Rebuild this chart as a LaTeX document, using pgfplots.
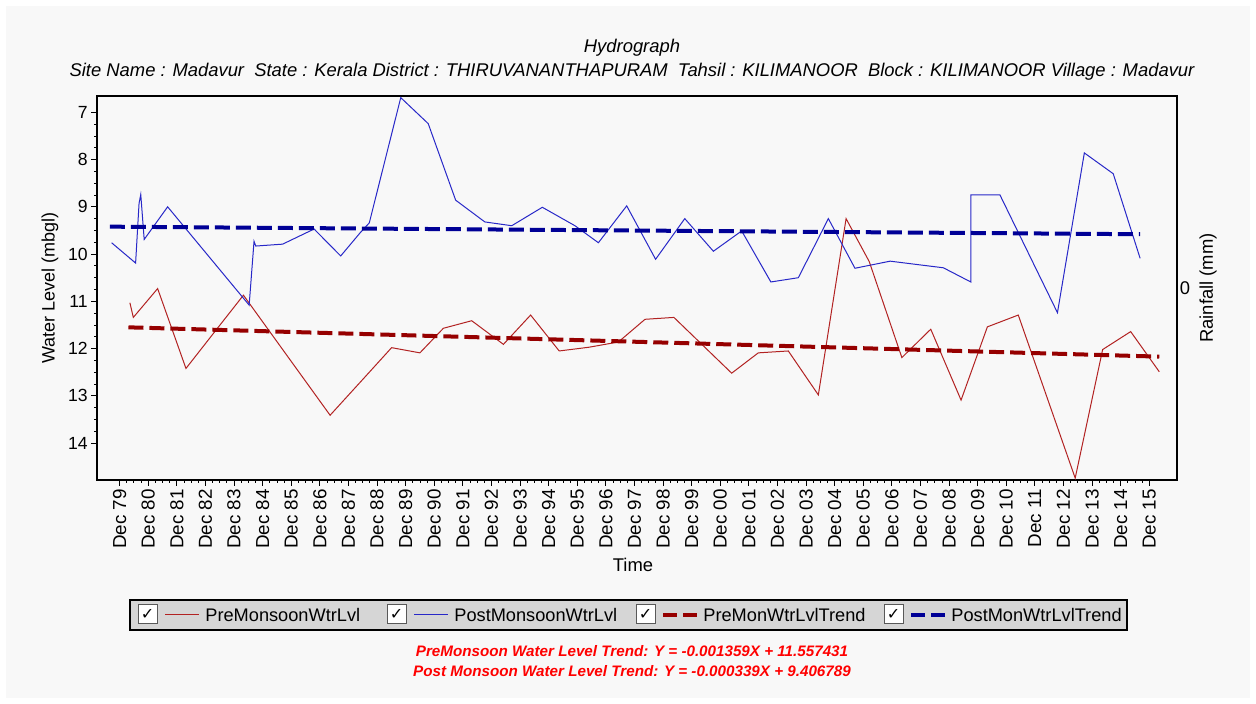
\documentclass[border=0pt]{standalone}
\usepackage{pgfplots}
\pgfplotsset{compat=1.18}
\usepackage{fontspec}
\setmainfont{Liberation Sans}
\newfontfamily\symfont{DejaVu Sans}

\definecolor{bgc}{RGB}{248,248,248}
\definecolor{prec}{RGB}{178,34,34}
\definecolor{postc}{RGB}{40,40,200}
\definecolor{pretr}{RGB}{150,0,0}
\definecolor{posttr}{RGB}{0,0,150}
\definecolor{legbg}{RGB}{214,214,214}

\newcommand{\lblfont}{\fontsize{9.2}{10}\selectfont}

\tikzset{
  legthin/.style={solid, line width=0.5pt},
  legdash/.style={line width=2pt, dash pattern=on 7pt off 3pt},
}

% t = years after Dec 1979
\pgfplotstableread{
t    y
0.36 11.03
0.48 11.34
1.33 10.73
2.32 12.42
3.55 11.47
4.33 10.87
7.36 13.41
8.64 12.56
9.51 11.98
10.50 12.09
11.32 11.57
12.31 11.41
13.42 11.91
14.37 11.29
15.37 12.05
16.42 11.97
17.44 11.86
18.37 11.38
19.38 11.34
21.40 12.52
22.33 12.09
23.38 12.05
24.43 12.98
25.40 9.25
26.21 10.16
27.35 12.19
28.36 11.59
29.42 13.09
30.34 11.54
31.42 11.29
33.41 14.74
34.37 12.02
35.35 11.64
36.35 12.49
}\premonsoon

\pgfplotstableread{
t    y
-0.28 9.76
0.56 10.19
0.68 8.93
0.74 8.74
0.86 9.69
1.68 9.00
4.53 11.08
4.70 9.73
4.76 9.83
5.70 9.79
6.80 9.47
7.73 10.04
8.41 9.55
8.73 9.34
9.83 6.69
10.79 7.24
11.75 8.86
12.77 9.32
13.71 9.40
14.78 9.01
15.92 9.40
16.74 9.76
17.73 8.98
18.74 10.11
19.76 9.25
20.76 9.94
21.75 9.51
22.77 10.59
23.73 10.50
24.78 9.25
25.71 10.30
26.94 10.15
28.80 10.29
29.76 10.59
29.76 8.75
30.78 8.75
32.79 11.24
33.73 7.86
34.74 8.30
35.68 10.09
}\postmonsoon

\begin{document}
\begin{tikzpicture}
\path[use as bounding box] (0,0) rectangle (628pt,352pt);
\fill[white] (0,0) rectangle (628pt,352pt);
\fill[bgc] (3pt,3pt) rectangle (625pt,349pt);

\begin{axis}[
    at={(48.5pt,112pt)}, anchor=south west,
    scale only axis,
    width=540pt, height=192pt,
    xmin=-0.79, xmax=36.97,
    ymin=6.655, ymax=14.78,
    y dir=reverse,
    axis background/.style={fill=bgc},
    axis line style={black, line width=0.8pt},
    tick align=outside,
    tick style={black, line width=0.4pt},
    major tick length=3pt, minor tick length=1.5pt,
    xtick={0,...,36},
    xticklabels={Dec 79,Dec 80,Dec 81,Dec 82,Dec 83,Dec 84,Dec 85,Dec 86,Dec 87,Dec 88,Dec 89,Dec 90,Dec 91,Dec 92,Dec 93,Dec 94,Dec 95,Dec 96,Dec 97,Dec 98,Dec 99,Dec 00,Dec 01,Dec 02,Dec 03,Dec 04,Dec 05,Dec 06,Dec 07,Dec 08,Dec 09,Dec 10,Dec 11,Dec 12,Dec 13,Dec 14,Dec 15},
    x tick label style={rotate=90, anchor=east, font=\fontsize{9.4}{10}\selectfont, inner sep=1.5pt},
    ytick={7,...,14},
    y tick label style={font=\fontsize{8.8}{10}\selectfont, inner sep=1.5pt},
    /pgf/number format/assume math mode=true,
    minor x tick num=3,
    minor y tick num=3,
    xtick pos=bottom, ytick pos=left,
    clip=false,
]
\addplot[prec, line width=0.5pt] table[x=t, y=y] {\premonsoon};
\addplot[postc, line width=0.5pt] table[x=t, y=y] {\postmonsoon};
\addplot[pretr, line width=2pt, dash pattern=on 7.5pt off 3pt] coordinates {(0.31,11.55) (36.35,12.17)};
\addplot[posttr, line width=2pt, dash pattern=on 7.5pt off 3pt] coordinates {(-0.34,9.42) (35.68,9.58)};
\end{axis}

% titles and labels
\node[font=\itshape\lblfont] at (316pt,328pt) {Hydrograph};
\node[font=\itshape\lblfont] at (316pt,316pt) {Site Name : Madavur\ \ State : Kerala District : THIRUVANANTHAPURAM\ \ Tahsil : KILIMANOOR\ \ Block : KILIMANOOR Village : Madavur};
\node[rotate=90, font=\fontsize{9}{10}\selectfont] at (25pt,208pt) {Water Level (mbgl)};
\node[rotate=90, font=\lblfont] at (604pt,208pt) {Rainfall (mm)};
\node[font=\lblfont] at (592.5pt,208pt) {0};
\node[font=\lblfont] at (316.5pt,69.5pt) {Time};

% legend
\draw[fill=legbg, draw=black, line width=0.6pt] (65pt,37pt) rectangle (563.5pt,52pt);
\foreach \cx/\lc/\lsty/\txt in {
    69pt/prec/legthin/PreMonsoonWtrLvl,
    193.5pt/postc/legthin/PostMonsoonWtrLvl,
    318pt/pretr/legdash/PreMonWtrLvlTrend,
    442pt/posttr/legdash/PostMonWtrLvlTrend} {
  \draw[fill=white, draw=gray!70!black, line width=0.5pt] (\cx,40pt) rectangle ++(9.5pt,9.5pt);
  \node[font=\symfont\bfseries\fontsize{8}{8}\selectfont, inner sep=0pt] at ([xshift=4.75pt,yshift=4.75pt]\cx,40pt) {✓};
  \draw[\lc, \lsty] ([xshift=13.5pt]\cx,44.5pt) -- ++(17pt,0);
  \node[anchor=west, font=\fontsize{9.1}{10}\selectfont, inner sep=0pt] at ([xshift=33.5pt]\cx,44.5pt) {\txt};
}

% trend equations
\node[red, font=\bfseries\itshape\fontsize{7.6}{8}\selectfont] at (316pt,26.5pt) {PreMonsoon Water Level Trend: Y = -0.001359X + 11.557431};
\node[red, font=\bfseries\itshape\fontsize{7.6}{8}\selectfont] at (316pt,16.5pt) {Post Monsoon Water Level Trend: Y = -0.000339X + 9.406789};
\end{tikzpicture}
\end{document}
